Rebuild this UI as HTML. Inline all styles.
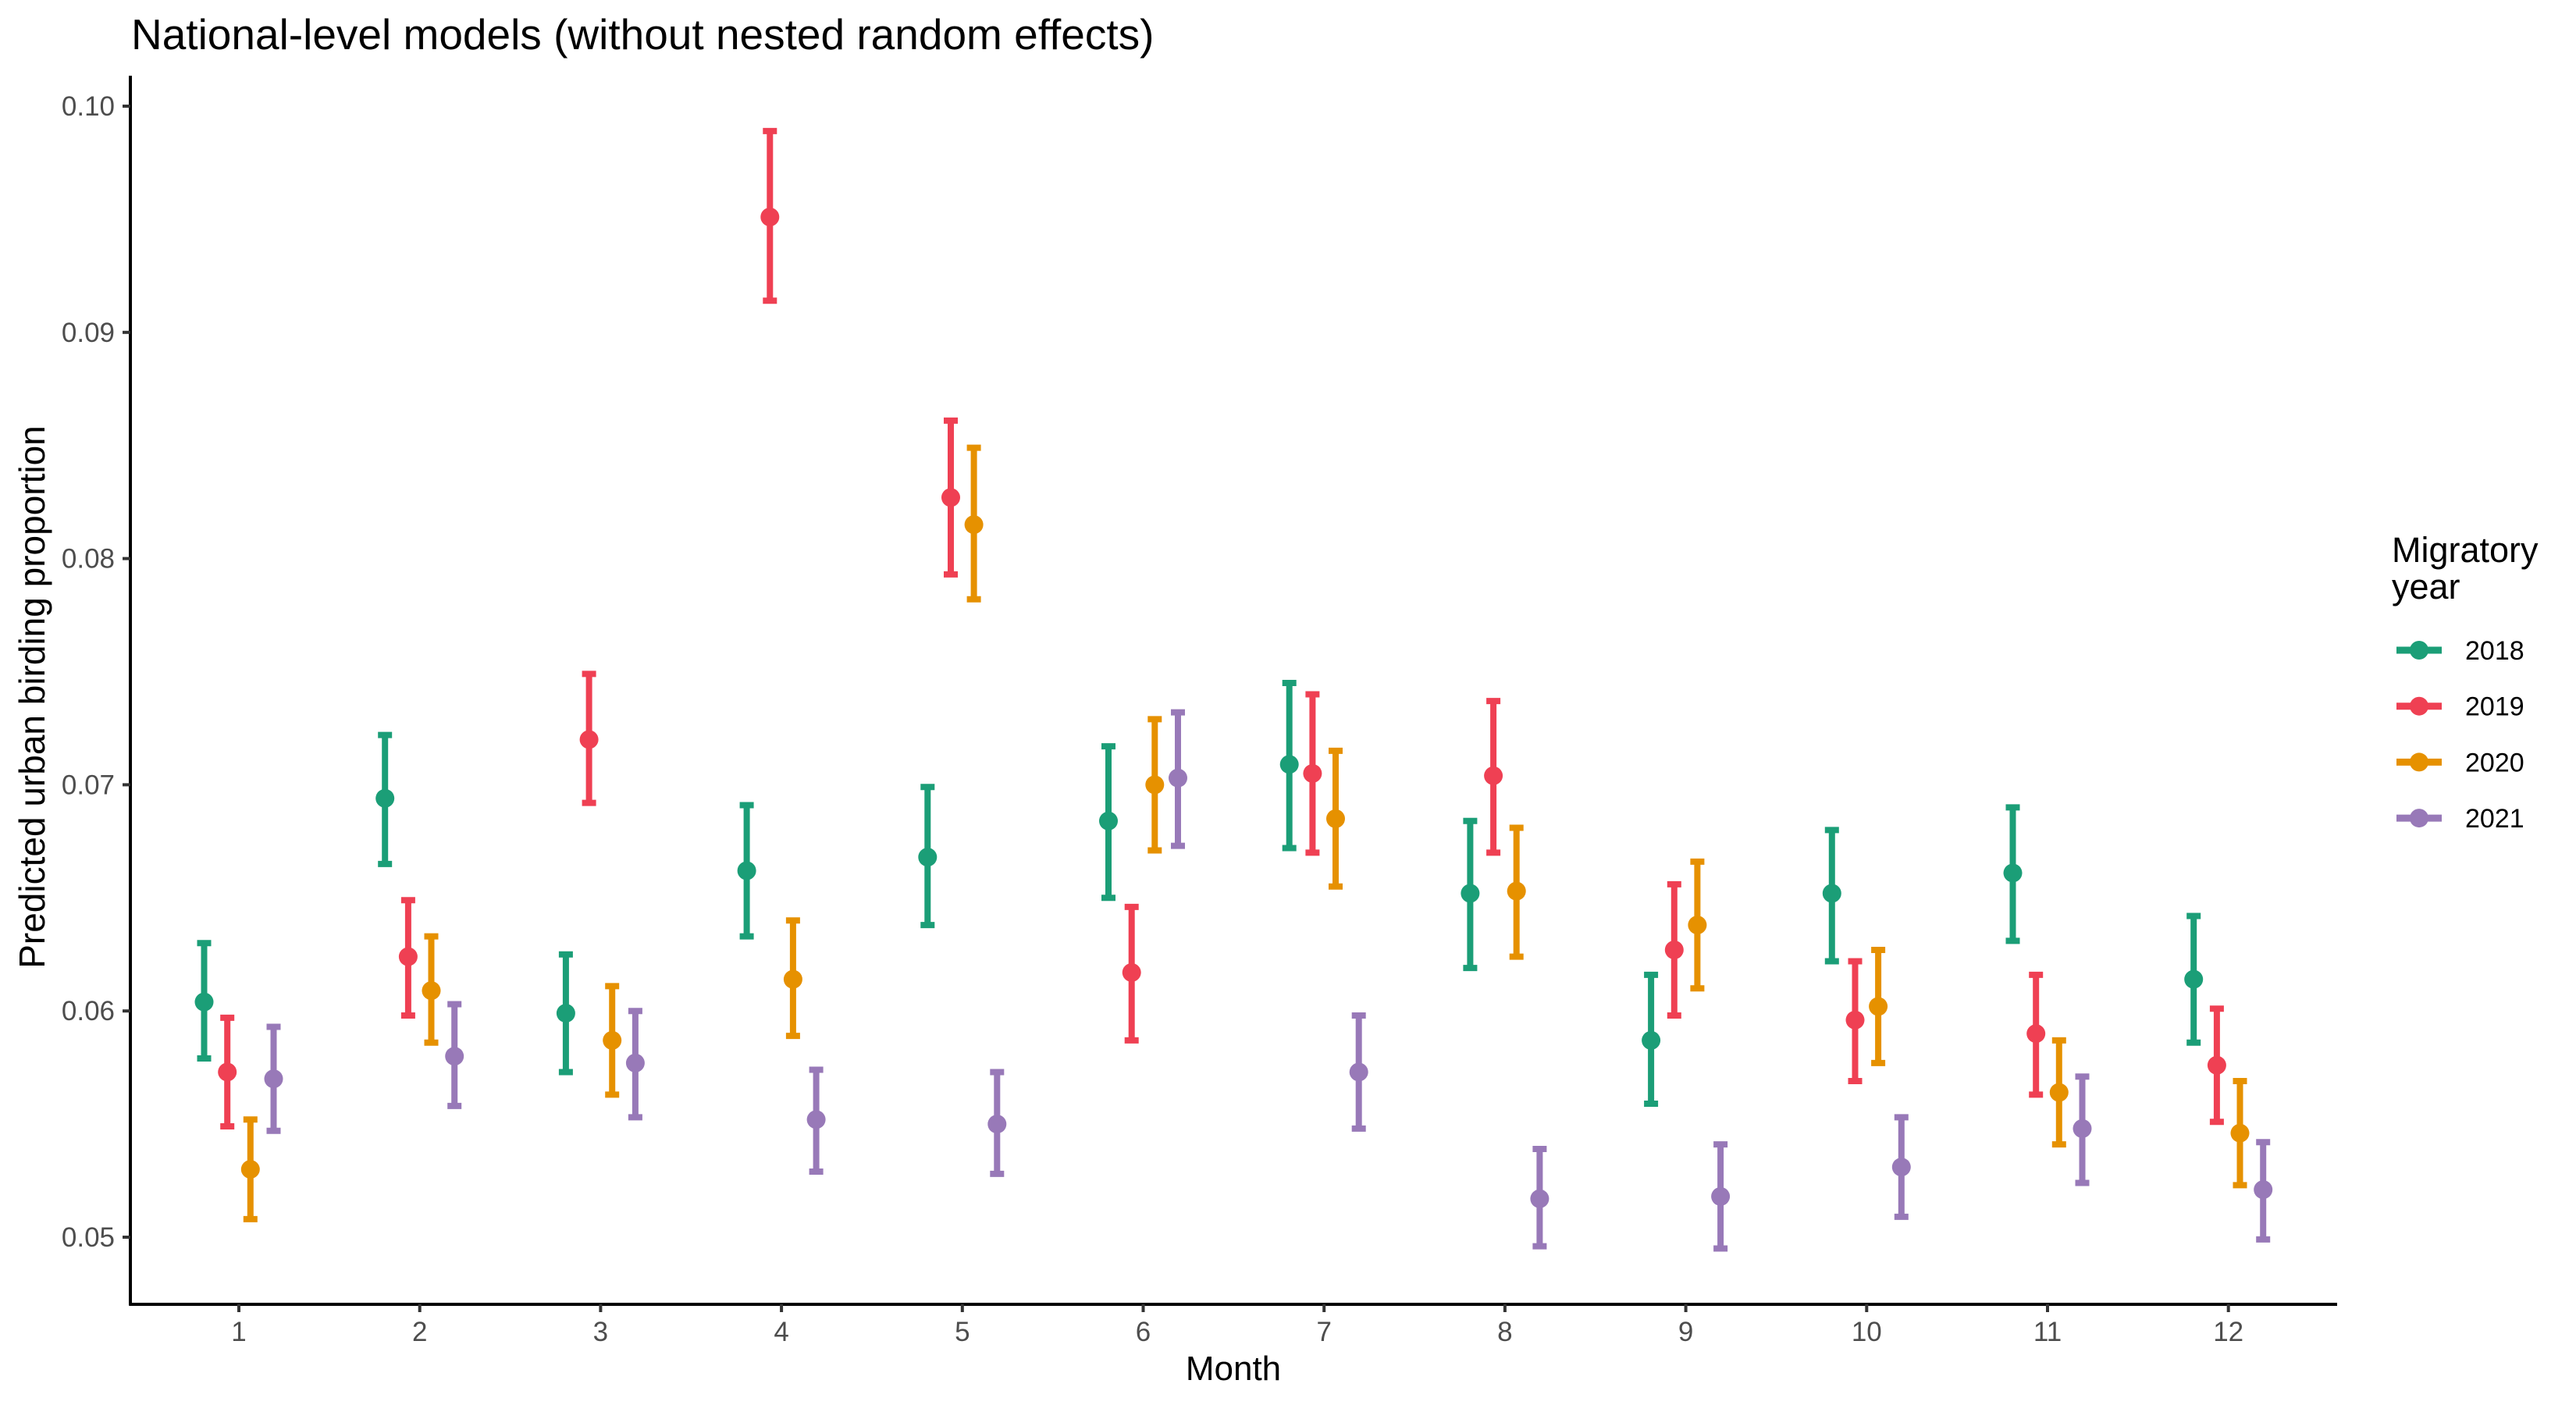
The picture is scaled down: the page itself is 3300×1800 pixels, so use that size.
<!DOCTYPE html>
<html><head><meta charset="utf-8"><style>
html,body{margin:0;padding:0;background:#fff;}
svg{display:block;font-family:"Liberation Sans",Arial,sans-serif;}
</style></head><body>
<svg id="chart" width="3300" height="1800" viewBox="0 0 3300 1800" xmlns="http://www.w3.org/2000/svg">
<rect width="3300" height="1800" fill="#fff"/>
<text x="168" y="63" font-size="55" fill="#000">National-level models (without nested random effects)</text>
<g id="plot"></g>
<text transform="translate(57,893) rotate(-90)" text-anchor="middle" font-size="46" fill="#000">Predicted urban birding proportion</text>
<text x="1580" y="1768" text-anchor="middle" font-size="44" fill="#000">Month</text>
<g id="legend">
<text x="3064" y="720" font-size="45" fill="#000">Migratory</text>
<text x="3064" y="767" font-size="45" fill="#000">year</text>
</g>
</svg>
<script>
const months = [1,2,3,4,5,6,7,8,9,10,11,12];
const years = ["2018","2019","2020","2021"];
const colors = ["#1b9e77","#ef4053","#e69100","#9879b8"];
const yTicks = [0.05,0.06,0.07,0.08,0.09,0.10];
const yTickLabels = ["0.05","0.06","0.07","0.08","0.09","0.10"];
const mean2018 = [0.0604,0.0694,0.0599,0.0662,0.0668,0.0684,0.0709,0.0652,0.0587,0.0652,0.0661,0.0614];
const lo2018   = [0.0579,0.0665,0.0573,0.0633,0.0638,0.0650,0.0672,0.0619,0.0559,0.0622,0.0631,0.0586];
const hi2018   = [0.0630,0.0722,0.0625,0.0691,0.0699,0.0717,0.0745,0.0684,0.0616,0.0680,0.0690,0.0642];
const mean2019 = [0.0573,0.0624,0.0720,0.0951,0.0827,0.0617,0.0705,0.0704,0.0627,0.0596,0.0590,0.0576];
const lo2019   = [0.0549,0.0598,0.0692,0.0914,0.0793,0.0587,0.0670,0.0670,0.0598,0.0569,0.0563,0.0551];
const hi2019   = [0.0597,0.0649,0.0749,0.0989,0.0861,0.0646,0.0740,0.0737,0.0656,0.0622,0.0616,0.0601];
const mean2020 = [0.0530,0.0609,0.0587,0.0614,0.0815,0.0700,0.0685,0.0653,0.0638,0.0602,0.0564,0.0546];
const lo2020   = [0.0508,0.0586,0.0563,0.0589,0.0782,0.0671,0.0655,0.0624,0.0610,0.0577,0.0541,0.0523];
const hi2020   = [0.0552,0.0633,0.0611,0.0640,0.0849,0.0729,0.0715,0.0681,0.0666,0.0627,0.0587,0.0569];
const mean2021 = [0.0570,0.0580,0.0577,0.0552,0.0550,0.0703,0.0573,0.0517,0.0518,0.0531,0.0548,0.0521];
const lo2021   = [0.0547,0.0558,0.0553,0.0529,0.0528,0.0673,0.0548,0.0496,0.0495,0.0509,0.0524,0.0499];
const hi2021   = [0.0593,0.0603,0.0600,0.0574,0.0573,0.0732,0.0598,0.0539,0.0541,0.0553,0.0571,0.0542];
const means=[mean2018,mean2019,mean2020,mean2021], los=[lo2018,lo2019,lo2020,lo2021], his=[hi2018,hi2019,hi2020,hi2021];

const NS="http://www.w3.org/2000/svg";
const X0=167, X1=2994, Y0=97, YB=1671;
function xs(m){return 306+(m-1)*231.7;}
function ys(v){return 136+(0.10-v)*28980;}
const dodge=[-44.5,-14.8,14.8,44.5];
const plot=document.getElementById('plot');
function mk(tag,attrs,parent){const e=document.createElementNS(NS,tag);for(const k in attrs)e.setAttribute(k,attrs[k]);(parent||plot).appendChild(e);return e;}

let a=mk('line',{x1:X0,y1:Y0,x2:X0,y2:YB+1.5,stroke:'#000','stroke-width':4});


a=mk('line',{x1:X0-1.5,y1:YB,x2:X1,y2:YB,stroke:'#000','stroke-width':4});



yTicks.forEach((v,i)=>{
  const t=mk('line',{x1:X0-10,x2:X0,y1:ys(v),y2:ys(v),stroke:'#333','stroke-width':4});
  
  
  const l=mk('text',{x:X0-20,y:ys(v)+12,'text-anchor':'end','font-size':35,fill:'#4d4d4d'});
  l.textContent=yTickLabels[i];
  
  
});
months.forEach(m=>{
  const t=mk('line',{x1:xs(m),x2:xs(m),y1:YB,y2:YB+10,stroke:'#333','stroke-width':4});
  
  
  const l=mk('text',{x:xs(m),y:1718,'text-anchor':'middle','font-size':35,fill:'#4d4d4d'});
  l.textContent=String(m);
  
  
});

years.forEach((yr,s)=>{
  const g=mk('g',{});
  
  
  months.forEach((m,i)=>{
    const x=xs(m)+dodge[s], c=colors[s];
    const e=mk('path',{d:`M${x},${ys(los[s][i])}V${ys(his[s][i])}M${x-9},${ys(los[s][i])}H${x+9}M${x-9},${ys(his[s][i])}H${x+9}`,stroke:c,'stroke-width':8,fill:'none'},g);
    
    
    const p=mk('circle',{cx:x,cy:ys(means[s][i]),r:12,fill:c},g);
    
    
  });
});

const leg=document.getElementById('legend');
years.forEach((yr,s)=>{
  const cy=833+s*71.7;
  const l=mk('line',{x1:3070,x2:3128,y1:cy,y2:cy,stroke:colors[s],'stroke-width':9},leg);
  
  
  const c=mk('circle',{cx:3099,cy:cy,r:12,fill:colors[s]},leg);
  
  
  const t=mk('text',{x:3158,y:cy+12,'font-size':34,fill:'#000'},leg);
  t.textContent=yr;
  
  
});
</script>
</body></html>
